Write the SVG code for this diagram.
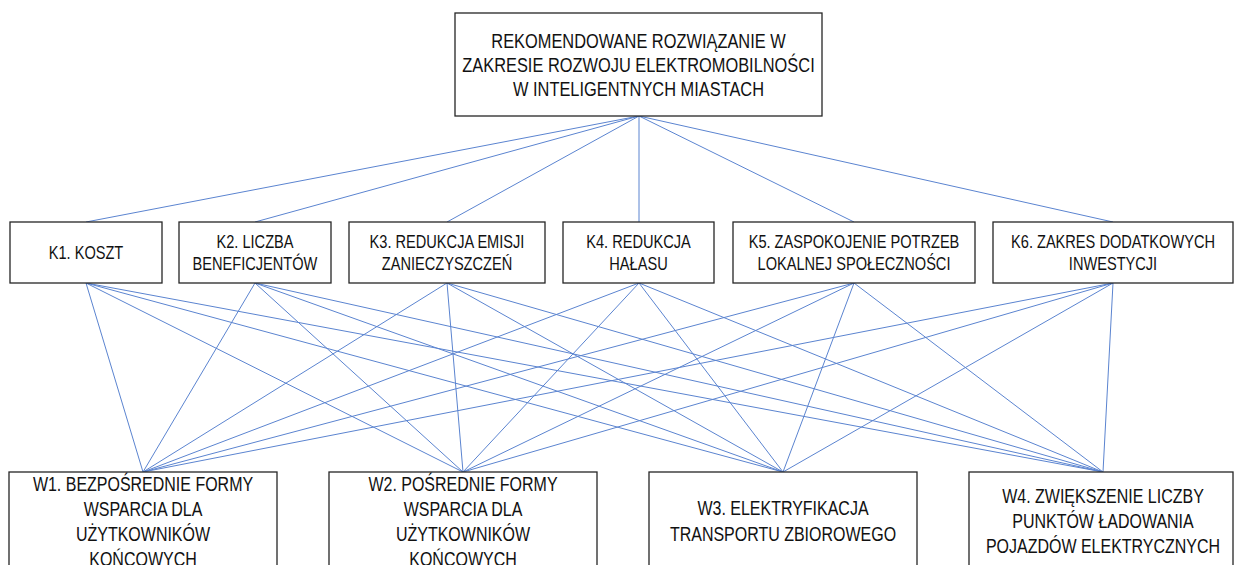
<svg xmlns="http://www.w3.org/2000/svg" width="1236" height="565" viewBox="0 0 1236 565">
<style>
.box{fill:#fff;stroke:#262626;stroke-width:1.3}
.t{font-family:"Liberation Sans",Arial,sans-serif;font-size:16px;fill:#111;text-anchor:middle}
.g{font-size:16.4px}
.k{font-size:14.6px}
.c{stroke:#5b84d0;stroke-width:1;fill:none}
</style>
<rect width="1236" height="565" fill="#fff"/>
<g id="connectors">
<path class="c" d="M639 116L86 222M639 116L255 222M639 116L447 222M639 116L639 222M639 116L854 222M639 116L1113 222"/>
<path class="c" d="M86 283L143 472M86 283L463 472M86 283L783 472M86 283L1103 472"/>
<path class="c" d="M255 283L143 472M255 283L463 472M255 283L783 472M255 283L1103 472"/>
<path class="c" d="M447 283L143 472M447 283L463 472M447 283L783 472M447 283L1103 472"/>
<path class="c" d="M639 283L143 472M639 283L463 472M639 283L783 472M639 283L1103 472"/>
<path class="c" d="M854 283L143 472M854 283L463 472M854 283L783 472M854 283L1103 472"/>
<path class="c" d="M1113 283L143 472M1113 283L463 472M1113 283L783 472M1113 283L1103 472"/>
</g>
<g id="goal">
<rect class="box" x="455" y="13" width="367" height="103"/>
<text class="t g" transform="translate(638.5,48) scale(1,1.26)">REKOMENDOWANE ROZWIĄZANIE W</text>
<text class="t g" transform="translate(638.5,72) scale(1,1.26)">ZAKRESIE ROZWOJU ELEKTROMOBILNOŚCI</text>
<text class="t g" transform="translate(638.5,96) scale(1,1.26)">W INTELIGENTNYCH MIASTACH</text>
</g>
<g id="k1">
<rect class="box" x="10" y="222" width="152" height="61"/>
<text class="t k" transform="translate(86,259) scale(1,1.28)">K1. KOSZT</text>
</g>
<g id="k2">
<rect class="box" x="179" y="222" width="152" height="61"/>
<text class="t k" transform="translate(255,248) scale(1,1.28)">K2. LICZBA</text>
<text class="t k" transform="translate(255,270) scale(1,1.28)">BENEFICJENTÓW</text>
</g>
<g id="k3">
<rect class="box" x="349" y="222" width="196" height="61"/>
<text class="t k" transform="translate(447,248) scale(1,1.28)">K3. REDUKCJA EMISJI</text>
<text class="t k" transform="translate(447,270) scale(1,1.28)">ZANIECZYSZCZEŃ</text>
</g>
<g id="k4">
<rect class="box" x="563" y="222" width="151" height="61"/>
<text class="t k" transform="translate(638.5,248) scale(1,1.28)">K4. REDUKCJA</text>
<text class="t k" transform="translate(638.5,270) scale(1,1.28)">HAŁASU</text>
</g>
<g id="k5">
<rect class="box" x="733" y="222" width="242" height="61"/>
<text class="t k" transform="translate(854,248) scale(1,1.28)">K5. ZASPOKOJENIE POTRZEB</text>
<text class="t k" transform="translate(854,270) scale(1,1.28)">LOKALNEJ SPOŁECZNOŚCI</text>
</g>
<g id="k6">
<rect class="box" x="993" y="222" width="240" height="61"/>
<text class="t k" transform="translate(1113,248) scale(1,1.28)">K6. ZAKRES DODATKOWYCH</text>
<text class="t k" transform="translate(1113,270) scale(1,1.28)">INWESTYCJI</text>
</g>
<g id="w1">
<rect class="box" x="9" y="472" width="268" height="100"/>
<text class="t" transform="translate(143,491) scale(1,1.22)">W1. BEZPOŚREDNIE FORMY</text>
<text class="t" transform="translate(143,516) scale(1,1.22)">WSPARCIA DLA</text>
<text class="t" transform="translate(143,541) scale(1,1.22)">UŻYTKOWNIKÓW</text>
<text class="t" transform="translate(143,566) scale(1,1.22)">KOŃCOWYCH</text>
</g>
<g id="w2">
<rect class="box" x="329" y="472" width="268" height="100"/>
<text class="t" transform="translate(463,491) scale(1,1.22)">W2. POŚREDNIE FORMY</text>
<text class="t" transform="translate(463,516) scale(1,1.22)">WSPARCIA DLA</text>
<text class="t" transform="translate(463,541) scale(1,1.22)">UŻYTKOWNIKÓW</text>
<text class="t" transform="translate(463,566) scale(1,1.22)">KOŃCOWYCH</text>
</g>
<g id="w3">
<rect class="box" x="649" y="472" width="268" height="100"/>
<text class="t" transform="translate(783,515) scale(1,1.22)">W3. ELEKTRYFIKACJA</text>
<text class="t" transform="translate(783,541) scale(1,1.22)">TRANSPORTU ZBIOROWEGO</text>
</g>
<g id="w4">
<rect class="box" x="969" y="472" width="264" height="100"/>
<text class="t" transform="translate(1103,503) scale(1,1.22)">W4. ZWIĘKSZENIE LICZBY</text>
<text class="t" transform="translate(1103,528) scale(1,1.22)">PUNKTÓW ŁADOWANIA</text>
<text class="t" transform="translate(1103,553) scale(1,1.22)">POJAZDÓW ELEKTRYCZNYCH</text>
</g>
</svg>
